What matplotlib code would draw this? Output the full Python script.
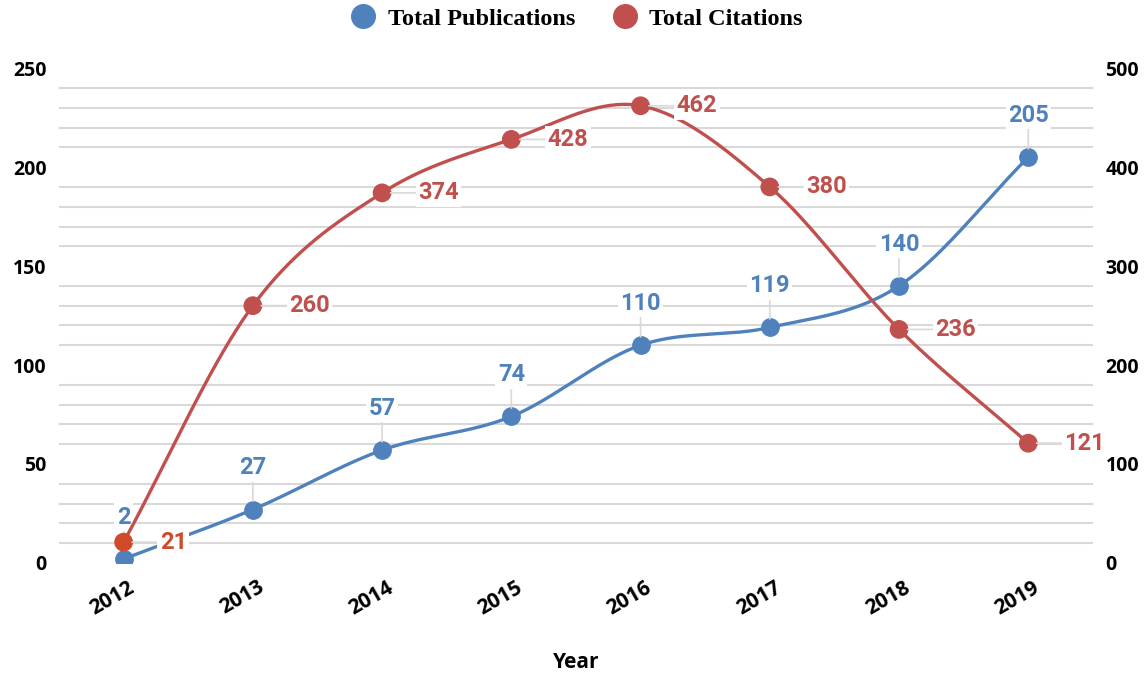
import numpy as np
import matplotlib
matplotlib.use("Agg")
import matplotlib.pyplot as plt
import matplotlib.transforms as mtransforms
from matplotlib.lines import Line2D

# datos del grafico
anios = ["2012", "2013", "2014", "2015", "2016", "2017", "2018", "2019"]
publicaciones = [2, 27, 57, 74, 110, 119, 140, 205]
citaciones = [21, 260, 374, 428, 462, 380, 236, 121]

azul = "#4F81BD"
rojo = "#C0504D"
rojo_primero = "#D04A2A"
gris = "#D9D9D9"


def curva_suave(y, n=40):
    # curva tipo excel (hermite con tangentes catmull-rom)
    y = np.asarray(y, dtype=float)
    k = len(y)
    m = np.zeros(k)
    m[1:-1] = (y[2:] - y[:-2]) / 2
    m[0] = y[1] - y[0]
    m[-1] = y[-1] - y[-2]
    xs, ys = [], []
    for i in range(k - 1):
        t = np.linspace(0, 1, n)
        h00 = 2 * t**3 - 3 * t**2 + 1
        h10 = t**3 - 2 * t**2 + t
        h01 = -2 * t**3 + 3 * t**2
        h11 = t**3 - t**2
        xs.append(i + t)
        ys.append(h00 * y[i] + h10 * m[i] + h01 * y[i + 1] + h11 * m[i + 1])
    return np.concatenate(xs), np.concatenate(ys)


fig = plt.figure(figsize=(11.48, 6.75), dpi=100)
ax = fig.add_axes([0.0514, 0.166, 0.9006, 0.733])
ax2 = ax.twinx()

x = np.arange(len(anios))

# rejilla: solo las lineas menores (las de 50 en 50 no aparecen)
menores = [v for v in range(10, 250, 10) if v % 50 != 0]
ax.hlines(menores, -0.5, len(anios) - 0.5, color=gris, lw=1.5, zorder=0)

# lineas
cx, cy = curva_suave(publicaciones)
ax.plot(cx, cy, color=azul, lw=2.4, zorder=3, solid_capstyle="round")
ax.plot(x, publicaciones, "o", color=azul, ms=12.5, zorder=4)

rx, ry = curva_suave(citaciones)
ax2.plot(rx, ry, color=rojo, lw=2.4, zorder=3, solid_capstyle="round")
colores_rojo = [rojo_primero] + [rojo] * (len(citaciones) - 1)
ax2.scatter(x, citaciones, s=12.5**2, color=colores_rojo, zorder=4)

ax.set_xlim(-0.5, len(anios) - 0.5)
ax.set_ylim(0, 250)
ax2.set_ylim(0, 500)
ax.set_yticks([0, 50, 100, 150, 200, 250])
ax2.set_yticks([0, 100, 200, 300, 400, 500])

for a in (ax, ax2):
    for s in a.spines.values():
        s.set_visible(False)
    a.tick_params(which="both", length=0)
    a.grid(False)

ax.tick_params(axis="y", pad=9, labelsize=14)
ax2.tick_params(axis="y", pad=9, labelsize=14)
for lab in ax.get_yticklabels() + ax2.get_yticklabels():
    lab.set_fontfamily("Open Sans")
    lab.set_fontweight("bold")

ax.set_xticks(x)
ax.set_xticklabels(anios, rotation=30, ha="center", fontsize=15,
                   fontweight="bold", fontfamily="Open Sans")
ax.tick_params(axis="x", pad=10)
desplaza = mtransforms.ScaledTranslation(-8 / 72, 0, fig.dpi_scale_trans)
for lab in ax.get_xticklabels():
    lab.set_transform(lab.get_transform() + desplaza)

ax.set_xlabel("Year", fontsize=15, fontweight="bold", fontfamily="Open Sans",
              labelpad=24)

# etiquetas de datos
caja = dict(boxstyle="square,pad=0.1", fc="white", ec="none")
for i, v in enumerate(publicaciones):
    ax.annotate(str(v), xy=(i, v), xycoords="data",
                xytext=(0, 30), textcoords="offset points",
                ha="center", va="center", color=azul, fontsize=17,
                fontweight="bold", fontfamily="Roboto", bbox=caja, zorder=10,
                arrowprops=dict(arrowstyle="-", color=gris, lw=1.2,
                                shrinkA=0, shrinkB=6))
for i, v in enumerate(citaciones):
    ax2.annotate(str(v), xy=(i, v), xycoords="data",
                 xytext=(26, 0), textcoords="offset points",
                 ha="left", va="center", color=colores_rojo[i], fontsize=17,
                 fontweight="bold", fontfamily="Roboto", bbox=caja, zorder=10,
                 arrowprops=dict(arrowstyle="-", color=gris, lw=1.2,
                                 shrinkA=0, shrinkB=6))

# leyenda
marcas = [Line2D([], [], ls="none", marker="o", ms=17, color=azul),
          Line2D([], [], ls="none", marker="o", ms=17, color=rojo)]
fig.legend(marcas, ["Total Publications", "Total Citations"],
           loc="center", bbox_to_anchor=(0.502, 0.972), ncol=2, frameon=False,
           prop={"family": "Liberation Serif", "weight": "bold", "size": 17.5},
           handletextpad=0.45, columnspacing=1.5, handlelength=1.1)

fig.savefig("out.png", dpi=100)
